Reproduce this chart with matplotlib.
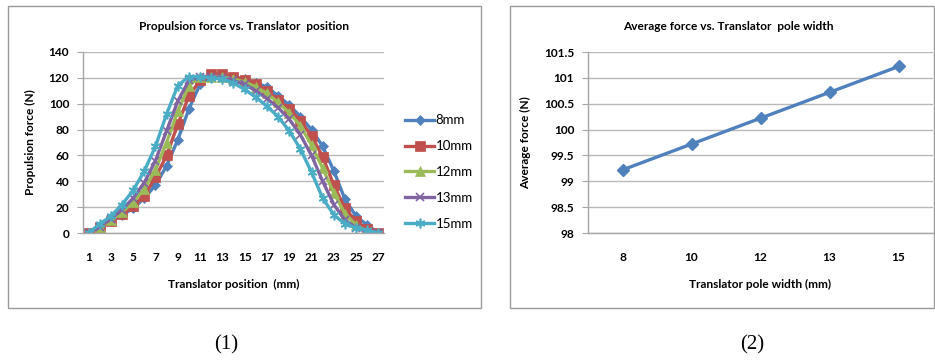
import matplotlib.pyplot as plt
from matplotlib.patches import Rectangle

plt.rcParams['font.family'] = ['Lato', 'DejaVu Sans']

positions = list(range(1, 28))
force_8mm = [0, 5, 9, 14, 19, 27, 37, 52, 72, 96, 115, 121, 122, 121, 119,
             116, 113, 106, 99, 90, 80, 67, 48, 26, 13, 6, 0]
force_10mm = [0, 5, 9, 15, 21, 29, 43, 60, 84, 106, 118, 123, 123, 121, 118,
              115, 110, 103, 96, 87, 75, 59, 37, 19, 9, 3, 0]
force_12mm = [0, 5, 10, 16, 24, 34, 49, 70, 94, 114, 121, 121, 121, 119, 117,
              113, 108, 101, 93, 83, 68, 50, 31, 15, 6, 1, 0]
force_13mm = [0, 5, 11, 18, 27, 39, 56, 79, 102, 118, 121, 121, 120, 118, 115,
              110, 104, 97, 88, 76, 60, 40, 22, 10, 4, 1, 0]
force_15mm = [0, 7, 13, 22, 33, 48, 67, 92, 114, 121, 121, 120, 119, 116, 111,
              105, 98, 90, 79, 65, 47, 27, 14, 7, 4, 2, 0]

pole_widths = ['8', '10', '12', '13', '15']
avg_force = [99.22, 99.72, 100.22, 100.72, 101.22]

series = [
    ('8mm', force_8mm, '#4F81BD', 'D', 5),
    ('10mm', force_10mm, '#C0504D', 's', 7),
    ('12mm', force_12mm, '#9BBB59', '^', 7),
    ('13mm', force_13mm, '#8064A2', 'x', 6),
    ('15mm', force_15mm, '#4BACC6', (6, 2, 0), 7),
]

W, H = 935, 360
fig = plt.figure(figsize=(W / 100, H / 100), dpi=100)

def fx(px):
    return px / W

def fy(py):
    return 1 - py / H

# chart frames
for x0, x1 in [(8, 481), (510, 934)]:
    fig.patches.append(Rectangle((fx(x0), fy(308)), fx(x1 - x0), (308 - 6) / H,
                                 transform=fig.transFigure, fill=False,
                                 edgecolor='#9a9a9a', linewidth=1.0))

def style_axes(ax):
    for s in ['top', 'right']:
        ax.spines[s].set_visible(False)
    for s in ['left', 'bottom']:
        ax.spines[s].set_color('#a6a6a6')
        ax.spines[s].set_linewidth(1.0)
    ax.grid(axis='y', color='#b8b8b8', linewidth=1.0)
    ax.set_axisbelow(True)
    ax.tick_params(axis='y', length=4, color='#a6a6a6', pad=6,
                   labelsize=8.6)
    ax.tick_params(axis='x', length=0, pad=14, labelsize=8.6)
    for lab in ax.get_xticklabels() + ax.get_yticklabels():
        lab.set_fontweight('bold')

# (1) propulsion force
ax1 = fig.add_axes([fx(83), fy(233), fx(384 - 83), (233 - 52) / H])
for name, vals, col, mk, ms in series:
    ax1.plot(positions, vals, color=col, linewidth=2.4, marker=mk,
             markersize=ms, markeredgewidth=1.2 if mk in ('x', (6, 2, 0)) else 0.5,
             markeredgecolor=col, label=name)
ax1.set_xlim(0.5, 27.5)
ax1.set_ylim(0, 140)
ax1.set_xticks(positions[::2])
ax1.set_yticks(range(0, 141, 20))
style_axes(ax1)
ax1.set_xlabel('Translator position  (mm)', fontsize=8.6, fontweight='bold',
               labelpad=11)
ax1.set_ylabel('Propulsion force (N)', fontsize=8.6, fontweight='bold',
               labelpad=9)
fig.text(fx(244), fy(26), 'Propulsion force vs. Translator  position',
         ha='center', va='center', fontsize=8.6, fontweight='bold')
fig.legend(loc='center left', bbox_to_anchor=(fx(400), fy(172)),
           frameon=False, fontsize=9.5, labelspacing=1.05, handlelength=2.2,
           handletextpad=0.1, borderaxespad=0)

# (2) average force
ax2 = fig.add_axes([fx(588), fy(233), fx(933 - 588), (233 - 52) / H])
ax2.plot(range(len(pole_widths)), avg_force, color='#4F81BD', linewidth=2.4,
         marker='D', markersize=6.5, markeredgecolor='#4F81BD')
ax2.set_xlim(-0.5, len(pole_widths) - 0.5)
ax2.set_ylim(98, 101.5)
ax2.set_xticks(range(len(pole_widths)))
ax2.set_xticklabels(pole_widths)
ax2.set_yticks([98, 98.5, 99, 99.5, 100, 100.5, 101, 101.5])
ax2.set_yticklabels(['98', '98.5', '99', '99.5', '100', '100.5', '101', '101.5'])
style_axes(ax2)
ax2.set_xlabel('Translator pole width (mm)', fontsize=8.6, fontweight='bold',
               labelpad=11)
ax2.set_ylabel('Average force (N)', fontsize=8.6, fontweight='bold',
               labelpad=9)
fig.text(fx(728), fy(26), 'Average force vs. Translator  pole width',
         ha='center', va='center', fontsize=8.6, fontweight='bold')

fig.text(fx(226), fy(345), '(1)', ha='center', va='center', fontsize=15,
         family='Liberation Serif')
fig.text(fx(752), fy(345), '(2)', ha='center', va='center', fontsize=15,
         family='Liberation Serif')

fig.savefig('out.png', dpi=100)
